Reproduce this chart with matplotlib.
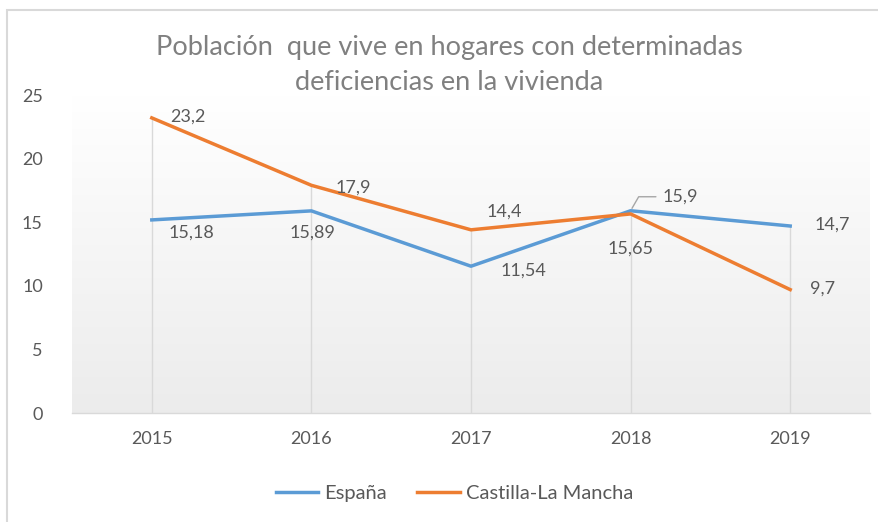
import matplotlib
matplotlib.use("Agg")
import matplotlib.pyplot as plt
import numpy as np
from matplotlib.patches import Rectangle

plt.rcParams['font.family'] = ['Lato', 'DejaVu Sans']

years = ["2015", "2016", "2017", "2018", "2019"]
espana = [15.18, 15.89, 11.54, 15.9, 14.7]
clm = [23.2, 17.9, 14.4, 15.65, 9.7]
espana_lbl = ["15,18", "15,89", "11,54", "15,9", "14,7"]
clm_lbl = ["23,2", "17,9", "14,4", "15,65", "9,7"]

# label offsets in pixels (dx, dy up)
esp_off = [(40, -13), (1, -22), (52, -4), (50, 14), (42, 1)]
clm_off = [(36, 1), (42, -2), (33, 18), (0, -35), (32, 1)]

blue = "#5B9BD5"
orange = "#ED7D31"
txt = "#595959"
fs = 13

fig = plt.figure(figsize=(8.79, 5.22), dpi=100)
fig.patches.append(Rectangle((7 / 879, -0.01), 1.0, 1 - 10 / 522 + 0.01,
                             transform=fig.transFigure, fill=False,
                             edgecolor="#d9d9d9", linewidth=1.5))

ax = fig.add_axes([72 / 879, 1 - 413 / 522, (870 - 72) / 879, (413 - 95) / 522])
x = np.arange(len(years))

# background gradient
grad = np.linspace(1.0, 0.925, 256).reshape(-1, 1)
ax.imshow(np.dstack([grad, grad, grad]), extent=(0, 1, 0, 1), transform=ax.transAxes,
          aspect="auto", zorder=0)

top = np.maximum(espana, clm)
ax.vlines(x, 0, top, color="#d9d9d9", linewidth=1, zorder=1)

ax.plot(x, espana, color=blue, linewidth=2.5, label="España", zorder=3,
        solid_joinstyle="round")
ax.plot(x, clm, color=orange, linewidth=2.5, label="Castilla-La Mancha", zorder=3,
        solid_joinstyle="round")

k = 0.72
for i in range(len(years)):
    if i == 3:
        ax.annotate(espana_lbl[i], (x[i], espana[i]),
                    xytext=(esp_off[i][0] * k, esp_off[i][1] * k),
                    textcoords="offset points", ha="center", va="center",
                    fontsize=fs, color=txt,
                    arrowprops=dict(arrowstyle="-", color="#a6a6a6", lw=1,
                                    shrinkA=3, shrinkB=2,
                                    connectionstyle="angle,angleA=0,angleB=60,rad=0"))
    else:
        ax.annotate(espana_lbl[i], (x[i], espana[i]),
                    xytext=(esp_off[i][0] * k, esp_off[i][1] * k),
                    textcoords="offset points", ha="center", va="center",
                    fontsize=fs, color=txt)
    ax.annotate(clm_lbl[i], (x[i], clm[i]),
                xytext=(clm_off[i][0] * k, clm_off[i][1] * k),
                textcoords="offset points", ha="center", va="center",
                fontsize=fs, color=txt)

ax.set_xlim(-0.5, len(years) - 0.5)
ax.set_ylim(0, 25)
ax.set_yticks([0, 5, 10, 15, 20, 25])
ax.set_xticks(x)
ax.set_xticklabels(years)
ax.tick_params(axis="y", length=0, pad=21, labelsize=fs, labelcolor=txt)
ax.tick_params(axis="x", length=0, pad=13, labelsize=fs, labelcolor=txt)
for s in ["top", "right", "left"]:
    ax.spines[s].set_visible(False)
ax.spines["bottom"].set_color("#d9d9d9")
ax.spines["bottom"].set_linewidth(1)

fig.text(0.511, 1 - 65 / 522, "Población  que vive en hogares con determinadas\ndeficiencias en la vivienda",
         ha="center", va="center", fontsize=19.5, color="#808080", linespacing=1.5)

fig.legend(loc="center", bbox_to_anchor=(0.517, 1 - 493 / 522), ncol=2, frameon=False,
           fontsize=14.5, labelcolor=txt, handlelength=2.1, handletextpad=0.3,
           columnspacing=1.5)

fig.savefig("out.png", dpi=100)
